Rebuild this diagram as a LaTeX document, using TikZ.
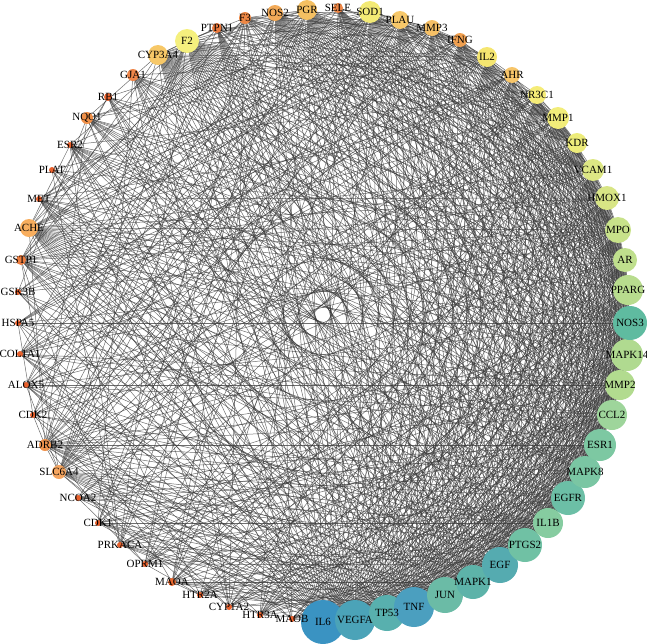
\documentclass[tikz,border=0pt]{standalone}
\usepackage{fontspec}
\setmainfont{Liberation Serif}
\pgfdeclarelayer{bg}
\pgfsetlayers{bg,main}
\begin{document}
\begin{tikzpicture}[x=1pt,y=-1pt,
  gene/.style={circle,inner sep=0pt,draw=none},
  lbl/.style={font=\fontsize{11}{12}\selectfont,text=black,inner sep=0pt},
  edge/.style={draw={rgb,255:red,55;green,55;blue,55},line width=0.5pt,opacity=0.72}]
\useasboundingbox (0,0) rectangle (647,643);
\foreach \nm/\x/\y/\r/\col [count=\i] in {
IL6/323/622/22/3A93C2,
VEGFA/355/620/20/4BA3B8,
TP53/387/613/18/58B0AE,
TNF/414/607/20/4B9FBF,
JUN/445/595/18/6BBBA6,
MAPK1/473/582/17/5DB3A9,
EGF/500/565/18/55ABB0,
PTGS2/525/545/17/70C1A4,
IL1B/548/523/15/86CCA0,
EGFR/568/498/17/6CBFA6,
MAPK8/585/472/16/7AC6A3,
ESR1/600/445/16/7DC8A2,
CCL2/612/415/15/9ED59B,
MMP2/620/385/15/B2DB8F,
MAPK14/627/355/16/B0DA90,
NOS3/630/323/17/5FBBA0,
PPARG/628/290/15/B8DC8E,
AR/625/260/12/BFDF8D,
MPO/618/230/13/C8E28A,
HMOX1/607/198/12/D8E585,
VCAM1/593/170/11/DDE784,
KDR/577/143/10/EDEC7A,
MMP1/558/118/11/F2ED7A,
NR3C1/537/95/9/F5EC78,
AHR/512/75/8/F7C569,
IL2/487/57/10/F5E670,
IFNG/460/40/7/F0A050,
MMP3/432/28/8/F6C066,
PLAU/400/20/9/F7C86A,
SOD1/370/12/11/F3EA75,
SELE/338/8/5/EC8545,
PGR/307/10/10/F5C062,
NOS2/275/13/8/F2AA58,
F3/245/18/6/EE8845,
PTPN1/217/28/5/EC7A3E,
F2/187/41/12/F5F07E,
CYP3A4/158/55/10/F7C868,
GJA1/133/75/6/EE8548,
RB1/108/97/4/E8622E,
NQO1/87/118/6/F09048,
ESR2/70/145/3/E8602C,
PLAT/52/170/3/E8602C,
MET/39/199/3/E8602C,
ACHE/29/228/9/F8AE5E,
GSTP1/21/260/5/EE7E40,
GSK3B/18/292/3/E8602C,
HSPA5/18/323/3/E8602C,
COL1A1/20/354/3/E8602C,
ALOX5/26/385/3/E8602C,
CDK2/33/415/3/E8602C,
ADRB2/45/445/6/F0944E,
SLC6A4/59/472/7/F5A560,
NCOA2/78/498/3/E8602C,
CDK1/98/523/3/E8602C,
PRKACA/120/545/3/E8602C,
OPRM1/145/564/3/E8602C,
MAOA/172/582/4/E8682F,
HTR2A/200/595/3/E8602C,
CYP1A2/229/607/3/E8602C,
HTR3A/260/615/3/E8602C,
MAOB/292/619/3/E8602C}{
  \definecolor{tmpc}{HTML}{\col}
  \node[gene,fill=tmpc,minimum size={2*\r*1pt}] (n\i) at (\x,\y) {};
  \pgfmathtruncatemacro\ww{\r+2}
  \expandafter\xdef\csname nr\i\endcsname{\ww}
  \expandafter\xdef\csname nn\i\endcsname{\nm}
}
\foreach \i in {1,...,61}{
  \node[lbl] (t\i) at (n\i.center) {\csname nn\i\endcsname};
}
\pgfmathsetseed{11}
\begin{pgfonlayer}{bg}
\foreach \i in {1,...,60}{
  \pgfmathtruncatemacro\js{\i+1}
  \foreach \j in {\js,...,61}{
    \pgfmathsetmacro\pp{\csname nr\i\endcsname*\csname nr\j\endcsname/220}
    \pgfmathsetmacro\uu{rnd}
    \ifdim\uu pt<\pp pt \draw[edge] (n\i.center) -- (n\j.center);\fi
  }
}
\end{pgfonlayer}
\end{tikzpicture}
\end{document}
